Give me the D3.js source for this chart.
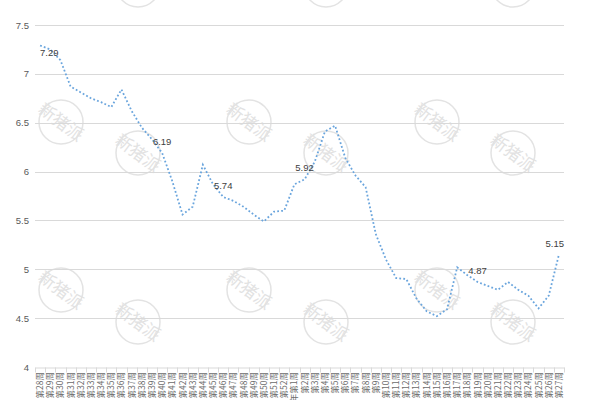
<!DOCTYPE html>
<html>
<head>
<meta charset="utf-8">
<script src="https://cdn.jsdelivr.net/npm/d3@7/dist/d3.min.js"></script>
<style>
  body { margin: 0; background: #fff; }
  svg { display: block; }
  .grid line { stroke: #d9d9d9; stroke-width: 1; }
  .ylab { font: 9.5px "Liberation Sans", Arial, sans-serif; fill: #595959; }
  .xlab { font: 8.5px "Noto Sans CJK SC", sans-serif; fill: #6b6b6b; }
  .dlab { font: 9.5px "Liberation Sans", Arial, sans-serif; fill: #404040; }
</style>
</head>
<body>
<svg width="600" height="400"></svg>
<script>
// weeks 28..52, then next year weeks 1..27
const weeksA = d3.range(28, 53).map(w => "第" + w + "周");
const weeksB = d3.range(1, 28).map(w => (w === 1 ? "2023年" : "") + "第" + w + "周");
const weeks = weeksA.concat(weeksB);

const prices = [
  7.29, 7.25, 7.14, 6.87, 6.81, 6.75, 6.71, 6.66, 6.84, 6.62,
  6.45, 6.33, 6.19, 5.90, 5.56, 5.64, 6.07, 5.87, 5.74, 5.70,
  5.64, 5.56, 5.49, 5.59, 5.60, 5.87, 5.92, 6.10, 6.41, 6.47,
  6.14, 5.96, 5.84, 5.36, 5.10, 4.91, 4.90, 4.70, 4.57, 4.52,
  4.59, 5.02, 4.94, 4.87, 4.83, 4.79, 4.87, 4.79, 4.73, 4.60,
  4.73, 5.15
];

// points that carry a value label
const labelled = [0, 12, 18, 26, 43, 51];
const yTicks = [4, 4.5, 5, 5.5, 6, 6.5, 7, 7.5];

const svg = d3.select("svg");
const m = { left: 35, right: 564, top: 25, bottom: 367 };

const x = d3.scaleBand().domain(weeks).range([m.left, m.right]);
const y = d3.scaleLinear().domain([4, 7.5]).range([m.bottom, m.top]);
const cx = d => x(d) + x.bandwidth() / 2;

// watermarks (top row only shows the lower rim of the stamp)
const marks = [[138, -15, 0], [326, -15, 0], [513, -15, 0],
  [61, 122, 1], [249, 122, 1], [437, 122, 1], [138, 153, 1], [326, 153, 1], [513, 153, 1],
  [61, 290, 1], [249, 290, 1], [437, 290, 1], [138, 322, 1], [326, 322, 1], [513, 322, 1]];
const wm = svg.append("g").selectAll("g").data(marks).enter().append("g")
  .attr("transform", d => `translate(${d[0]},${d[1]})`);
wm.append("circle").attr("r", 22).attr("fill", "none")
  .attr("stroke", "#e3e3e3").attr("stroke-width", 1.5);
wm.filter(d => d[2]).append("text").attr("transform", "rotate(37)")
  .attr("text-anchor", "middle").attr("dy", 6)
  .style("font", "17px 'Noto Sans CJK SC', sans-serif")
  .attr("fill", "#e2e2e2")
  .text("新猪派");

// gridlines
svg.append("g").attr("class", "grid")
  .selectAll("line").data(yTicks.filter(t => t > 4)).enter().append("line")
  .attr("x1", m.left).attr("x2", m.right)
  .attr("y1", d => Math.round(y(d)) + 0.5).attr("y2", d => Math.round(y(d)) + 0.5);

// y labels
svg.append("g").selectAll("text").data(yTicks).enter().append("text")
  .attr("class", "ylab")
  .attr("x", 29).attr("y", d => y(d) + 3.5)
  .attr("text-anchor", "end")
  .text(d => d3.format("~g")(d));

// x axis
const xAxis = d3.axisBottom(x).tickSize(0).tickFormat("");
const gx = svg.append("g").attr("transform", `translate(0,${Math.round(m.bottom) + 0.5})`).call(xAxis);
gx.select(".domain").attr("stroke", "#d9d9d9");
gx.selectAll(".tickmark").data(weeks.concat([null])).enter().append("line")
  .attr("x1", (d, i) => Math.round(m.left + i * x.step()) + 0.5)
  .attr("x2", (d, i) => Math.round(m.left + i * x.step()) + 0.5)
  .attr("y1", 0).attr("y2", 5).attr("stroke", "#d9d9d9");

svg.append("g").selectAll("text").data(weeks).enter().append("text")
  .attr("class", "xlab")
  .attr("transform", d => `translate(${cx(d) + 3},${m.bottom + 5}) rotate(-90)`)
  .attr("text-anchor", "end")
  .text(d => d);

// line
const line = d3.line().x((d, i) => cx(weeks[i])).y(d => y(d));
svg.append("path").datum(prices)
  .attr("d", line).attr("fill", "none")
  .attr("stroke", "#6aa5dd").attr("stroke-width", 1.8)
  .attr("stroke-dasharray", "1.8 2.2");

// value labels
labelled.forEach(i => {
  const px = cx(weeks[i]), py = y(prices[i]);
  const t = svg.append("text").attr("class", "dlab").text(prices[i].toFixed(2));
  if (i === 0) {
    t.attr("x", px).attr("y", py + 10).attr("text-anchor", "start");
  } else {
    const w = t.node().getComputedTextLength();
    const xc = Math.min(px, m.right - w / 2);
    t.attr("x", xc).attr("y", py - 8).attr("text-anchor", "middle");
  }
});
</script>
</body>
</html>
